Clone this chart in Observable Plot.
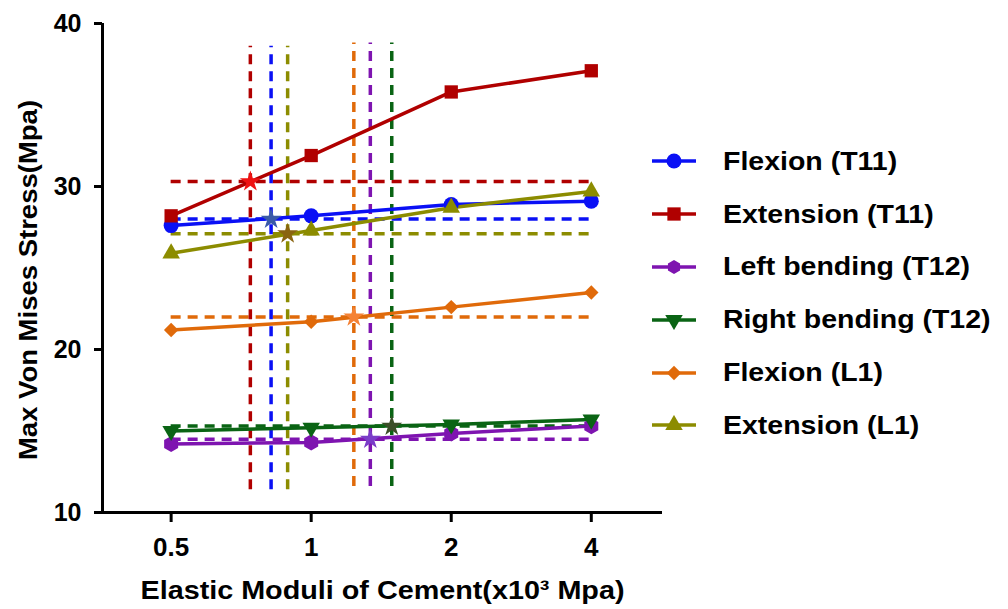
<!DOCTYPE html>
<html><head><meta charset="utf-8">
<script src="https://cdn.jsdelivr.net/npm/d3@7"></script>
<script src="https://cdn.jsdelivr.net/npm/@observablehq/plot@0.6"></script>
<style>
body{margin:0;background:#fff;}
#wrap{position:relative;width:1008px;height:609px;font-family:"Liberation Sans",Arial,sans-serif;font-weight:bold;}
#legend{position:absolute;left:652px;top:135px;}
.row{display:flex;align-items:center;height:52.8px;}
.row span{font-size:25px;margin-left:27px;color:#000;white-space:nowrap;display:inline-block;transform:scaleX(1.14);transform-origin:left center;}
</style></head><body><div id="wrap"><div id="legend"></div></div>
<script>
// ---- data ----
const moduli = [0.5, 1, 2, 4];                       // x 10^3 MPa
const series = ["Flexion (T11)", "Extension (T11)", "Left bending (T12)",
                "Right bending (T12)", "Flexion (L1)", "Extension (L1)"];
const flexionT11      = [27.6, 28.2, 28.9, 29.1];
const extensionT11    = [28.2, 31.9, 35.8, 37.1];
const leftBendingT12  = [14.2, 14.3, 14.85, 15.3];
const rightBendingT12 = [15.0, 15.2, 15.4, 15.7];
const flexionL1       = [21.2, 21.7, 22.6, 23.5];
const extensionL1     = [25.9, 27.3, 28.7, 29.7];
// reference stress levels (horizontal dashed) and matching moduli (vertical dashed, stars)
const refStress  = [28.0, 30.3, 14.5, 15.3, 22.0, 27.1];
const refModulus = [0.82, 0.74, 1.34, 1.49, 1.235, 0.89];
const refTop     = [38.6, 38.6, 38.8, 38.8, 38.8, 38.6];
const refBottom  = [11.4, 11.4, 11.6, 11.6, 11.6, 11.4];
const yTicks = [10, 20, 30, 40];

// ---- styles ----
const colors = ["#0a10f5", "#b00000", "#7e14b0", "#0a6414", "#e06a0a", "#8c8c00"];
const starColors = ["#3a5aa8", "#ee1212", "#7a3cc8", "#3c4f28", "#f58235", "#8a6410"];
const symbols = ["circle", "square", "hexagon", "triangle", "diamond2", "triangle"];
const rotations = [0, 0, 0, 180, 0, 0];
const sizes = [7.5, 7.5, 7, 6.5, 6.5, 6.5];
const xDomain = [0.356, 5.69];
const font = '"Liberation Sans", Arial, sans-serif';

const values = [flexionT11, extensionT11, leftBendingT12, rightBendingT12, flexionL1, extensionL1];
const rows = series.flatMap((s, j) => moduli.map((m, i) => ({series: s, j, modulus: m, stress: values[j][i]})));
const refs = series.map((s, j) => ({series: s, j, stress: refStress[j], modulus: refModulus[j], top: refTop[j], bottom: refBottom[j]}));

const dash = "10,7";
const chart = Plot.plot({
  width: 1008, height: 609,
  marginLeft: 102, marginRight: 346, marginTop: 23, marginBottom: 97,
  style: {fontFamily: font, fontWeight: "bold", background: "#fff", color: "#000"},
  x: {type: "log", base: 2, domain: xDomain},
  y: {domain: [10, 40]},
  r: {type: "identity"},
  color: {domain: series, range: colors},
  symbol: {domain: series, range: symbols},
  marks: [
    Plot.ruleY(refs, {y: "stress", x1: moduli[0], x2: moduli[moduli.length - 1], stroke: "series", strokeWidth: 3.5, strokeDasharray: dash}),
    Plot.ruleX(refs, {x: "modulus", y1: "bottom", y2: "top", stroke: "series", strokeWidth: 3.5, strokeDasharray: dash}),
    Plot.line(rows, {x: "modulus", y: "stress", z: "series", stroke: "series", strokeWidth: 3.5}),
    Plot.dot(rows, {x: "modulus", y: "stress", fill: "series", symbol: "series", r: d => sizes[d.j], rotate: d => rotations[d.j], stroke: "none"}),
    Plot.dot(refs, {x: "modulus", y: "stress", symbol: "star", r: 6.6, fill: d => starColors[d.j], stroke: "none"}),
    Plot.ruleY([10], {strokeWidth: 3, stroke: "#000"}),
    Plot.ruleX([xDomain[0]], {strokeWidth: 3, stroke: "#000", y1: 10, y2: 40}),
    Plot.axisX({ticks: moduli, tickFormat: d => String(d), tickSize: 10, tickPadding: 15, fontSize: 26, strokeWidth: 3, label: null}),
    Plot.axisY({ticks: yTicks, tickSize: 8, tickPadding: 13, fontSize: 25, strokeWidth: 3, label: null}),
    Plot.text(["Elastic Moduli of Cement(x10³ Mpa)"], {frameAnchor: "bottom", dy: 78, fontSize: 25, lineAnchor: "middle", fill: "#000", className: "stretch-x"}),
    Plot.text(["Max Von Mises Stress(Mpa)"], {frameAnchor: "left", dx: -74, dy: 12, rotate: -90, fontSize: 25, lineAnchor: "middle", textAnchor: "middle", fill: "#000", className: "stretch-y"})
  ]
});
document.getElementById("wrap").prepend(chart);

// widen the title glyphs like the reference artwork
function stretch(sel, k) {
  d3.select(chart).selectAll(sel).each(function() {
    const w = this.getComputedTextLength();
    this.setAttribute("textLength", (w * k).toFixed(1));
    this.setAttribute("lengthAdjust", "spacingAndGlyphs");
  });
}
stretch(".stretch-x text", 1.15);
stretch(".stretch-y text", 1.10);

// ---- legend ----
const legend = d3.select("#legend");
series.forEach((s, j) => {
  const row = legend.append("div").attr("class", "row");
  const svg = row.append("svg").attr("width", 44).attr("height", 20);
  svg.append("line").attr("x1", 0).attr("x2", 44).attr("y1", 10).attr("y2", 10)
    .attr("stroke", colors[j]).attr("stroke-width", 3.5);
  const symMap = {circle: d3.symbolCircle, square: d3.symbolSquare, triangle: d3.symbolTriangle, diamond2: d3.symbolDiamond2};
  let path;
  if (symbols[j] === "hexagon") {
    const r = sizes[j];
    const pts = d3.range(6).map(k => [r * Math.cos(Math.PI / 6 + k * Math.PI / 3), r * Math.sin(Math.PI / 6 + k * Math.PI / 3)]);
    path = "M" + pts.join("L") + "Z";
  } else {
    path = d3.symbol(symMap[symbols[j]], Math.PI * sizes[j] * sizes[j])();
  }
  svg.append("path").attr("d", path).attr("fill", colors[j])
    .attr("transform", `translate(22,10) rotate(${rotations[j]})`);
  row.append("span").text(s);
});
</script></body></html>
